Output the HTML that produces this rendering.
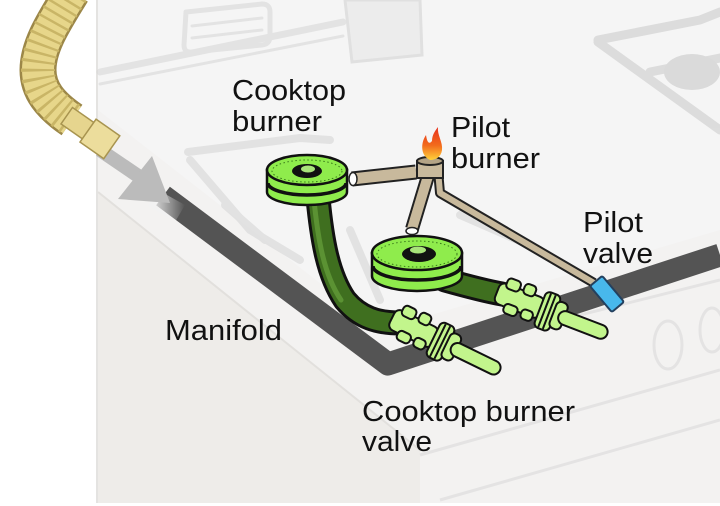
<!DOCTYPE html>
<html>
<head>
<meta charset="utf-8">
<style>
  html,body{margin:0;padding:0;background:#fff;}
  svg{display:block;}
  text{font-family:"Liberation Sans",Arial,sans-serif;font-size:29px;fill:#111;}
</style>
</head>
<body>
<svg width="720" height="506" viewBox="0 0 720 506" xmlns="http://www.w3.org/2000/svg">
  <defs>
    <linearGradient id="flame" x1="0" y1="0" x2="0" y2="1">
      <stop offset="0" stop-color="#e8321e"/>
      <stop offset="0.55" stop-color="#f26a1c"/>
      <stop offset="1" stop-color="#ffd23a"/>
    </linearGradient>
    <linearGradient id="mfade" x1="0" y1="0" x2="1" y2="0">
      <stop offset="0" stop-color="#f2f2f2" stop-opacity="1"/>
      <stop offset="1" stop-color="#f2f2f2" stop-opacity="0"/>
    </linearGradient>
  </defs>

  <!-- background -->
  <rect x="0" y="0" width="720" height="506" fill="#ffffff"/>
  <rect x="96" y="0" width="624" height="503" fill="#f3f2f1"/>
  <line x1="97" y1="0" x2="97" y2="503" stroke="#e4e3e1" stroke-width="2"/>
  <!-- lower-left face -->
  <polygon points="98,192 360,403 420,450 420,503 98,503" fill="#eeece9"/>
  <line x1="98" y1="192" x2="420" y2="450" stroke="#e2e0dd" stroke-width="2"/>
  <!-- upper region lighter -->
  <polygon points="98,0 720,0 720,230 380,330 98,110" fill="#f5f5f5"/>

  <!-- faint background drawings -->
  <g opacity="0.55">
    <g fill="none" stroke="#d6d6d6" stroke-linecap="round" stroke-linejoin="round">
      <path d="M100,72 L343,22" stroke-width="7"/>
      <path d="M100,84 L343,36" stroke-width="3"/>
      <path d="M186,12 L262,4 Q270,4 270,12 L270,36 Q270,44 262,45 L192,52 Q184,53 184,45 Z" stroke-width="5"/>
      <path d="M192,26 L262,18" stroke-width="3"/>
      <path d="M192,38 L262,30" stroke-width="3"/>
    </g>
    <path d="M345,0 L420,0 L422,55 L352,62 Z" fill="#e6e6e6" stroke="#d0d0d0" stroke-width="3"/>
    <!-- top right grates -->
    <g fill="none" stroke="#c8c8c8" stroke-width="9" stroke-linecap="round" stroke-linejoin="round">
      <path d="M598,40 L700,20 L720,12"/>
      <path d="M598,42 L720,130"/>
      <path d="M650,72 L720,58"/>
    </g>
    <ellipse cx="692" cy="72" rx="28" ry="18" fill="#c4c4c4"/>
    <!-- center grate under burners -->
    <g fill="none" stroke="#d4d4d4" stroke-width="8" stroke-linecap="round" stroke-linejoin="round">
      <path d="M188,152 L300,138 L330,140"/>
      <path d="M190,160 L250,230 L300,260"/>
      <path d="M225,205 L265,240"/>
      <path d="M460,215 L540,250"/>
      <path d="M350,230 L380,300"/>
    </g>
    <!-- bottom right oven front -->
    <g fill="none" stroke="#d8d8d8" stroke-width="3">
      <path d="M420,455 L720,370"/>
      <path d="M440,500 L720,420"/>
      <path d="M520,330 L720,280"/>
      <ellipse cx="668" cy="345" rx="14" ry="24"/>
      <ellipse cx="712" cy="330" rx="12" ry="22"/>
    </g>
  </g>

  <!-- manifold -->
  <polyline points="163,196 388,364 720,255" fill="none" stroke="#545454" stroke-width="23" stroke-linejoin="round"/>
  <polygon points="158,190 185,205 175,222 148,206" fill="url(#mfade)"/>

  <!-- arrow -->
  <line x1="100" y1="150" x2="150" y2="184" stroke="#bbbbbb" stroke-width="14"/>
  <polygon points="152,156 118,199 170,203" fill="#bbbbbb"/>

  <!-- hose -->
  <path d="M72,-8 C55,20 38,45 38,70 C38,90 50,105 72,120" fill="none" stroke="#9c8748" stroke-width="37"/>
  <path d="M72,-8 C55,20 38,45 38,70 C38,90 50,105 72,120" fill="none" stroke="#e7d68a" stroke-width="32"/>
  <path d="M72,-8 C55,20 38,45 38,70 C38,90 50,105 72,120" fill="none" stroke="#c9b566" stroke-width="34" stroke-dasharray="2.5 6"/>
  <g transform="translate(70,118) rotate(35)">
    <rect x="-4" y="-10" width="30" height="20" fill="#e6d58e" stroke="#a8944f" stroke-width="1.5"/>
    <rect x="22" y="-14" width="29" height="28" fill="#ecdd9c" stroke="#a8944f" stroke-width="1.5"/>
  </g>

  <!-- pilot thin tube to pilot valve -->
  <polyline points="438,170 440,193 594,283" fill="none" stroke="#222" stroke-width="10" stroke-linejoin="round"/>
  <polyline points="438,170 440,193 594,283" fill="none" stroke="#c8b99c" stroke-width="6" stroke-linejoin="round"/>

  <!-- pilot valve -->
  <g transform="translate(607,294) rotate(50)">
    <rect x="-17" y="-8" width="34" height="16" rx="2" fill="#48b8ec" stroke="#24405e" stroke-width="2"/>
  </g>

  <!-- green tube 1 -->
  <path d="M318,198 C322,240 328,275 345,300 C360,318 378,323 400,323" fill="none" stroke="#111" stroke-width="25" stroke-linecap="round"/>
  <path d="M318,198 C322,240 328,275 345,300 C360,318 378,323 400,323" fill="none" stroke="#3f6f1f" stroke-width="19" stroke-linecap="round"/>
  <path d="M314,200 C318,240 324,275 341,300" fill="none" stroke="#5b9233" stroke-width="5" stroke-linecap="round"/>
  <!-- green tube 2 -->
  <path d="M445,280 C470,287 485,291 502,294" fill="none" stroke="#111" stroke-width="25" stroke-linecap="round"/>
  <path d="M445,280 C470,287 485,291 502,294" fill="none" stroke="#3f6f1f" stroke-width="19" stroke-linecap="round"/>

  <!-- valves -->
  <g transform="translate(392,318) rotate(26)" fill="#c2f58c" stroke="#111" stroke-width="2">
    <rect x="0" y="-11" width="48" height="22" rx="6"/>
    <rect x="6" y="-18" width="14" height="11" rx="4"/>
    <rect x="24" y="-19" width="12" height="11" rx="4"/>
    <rect x="12" y="7" width="14" height="10" rx="4"/>
    <rect x="30" y="6" width="12" height="10" rx="4"/>
    <rect x="46" y="-19" width="16" height="38" rx="5"/>
    <line x1="51" y1="-18" x2="51" y2="18"/>
    <line x1="56" y1="-18" x2="56" y2="18"/>
    <rect x="60" y="-14" width="12" height="28" rx="5"/>
    <rect x="66" y="-7" width="54" height="14" rx="7"/>
  </g>
  <g transform="translate(497,292) rotate(21)" fill="#c2f58c" stroke="#111" stroke-width="2">
    <rect x="0" y="-11" width="48" height="22" rx="6"/>
    <rect x="6" y="-18" width="14" height="11" rx="4"/>
    <rect x="24" y="-19" width="12" height="11" rx="4"/>
    <rect x="12" y="7" width="14" height="10" rx="4"/>
    <rect x="30" y="6" width="12" height="10" rx="4"/>
    <rect x="46" y="-19" width="16" height="38" rx="5"/>
    <line x1="51" y1="-18" x2="51" y2="18"/>
    <line x1="56" y1="-18" x2="56" y2="18"/>
    <rect x="60" y="-14" width="12" height="28" rx="5"/>
    <rect x="66" y="-7" width="52" height="14" rx="7"/>
  </g>

  <!-- burner 1 -->
  <g stroke="#111" stroke-width="2.5">
    <path d="M267,170 L267,192 A40,13 0 0 0 347,192 L347,170 Z" fill="#8fec4c"/>
    <path d="M268,183 A39,12 0 0 0 346,183" fill="none" stroke-width="3.5"/>
    <ellipse cx="307" cy="170" rx="40" ry="15" fill="#8fec4c"/>
    <ellipse cx="307" cy="171" rx="35" ry="11" fill="none" stroke="#3b7a1c" stroke-width="1" stroke-dasharray="1.5 2.5"/>
    <ellipse cx="307" cy="171" rx="15" ry="7" fill="#111" stroke="none"/>
    <ellipse cx="308" cy="169" rx="7" ry="3.5" fill="#a8e37a" stroke="none"/>
  </g>

  <!-- pilot tube A (to burner 1) -->
  <line x1="352" y1="179" x2="416" y2="172" stroke="#222" stroke-width="15"/>
  <line x1="352" y1="179" x2="416" y2="172" stroke="#c8b99c" stroke-width="11"/>
  <ellipse cx="353" cy="179" rx="4" ry="6.5" fill="#fff" stroke="#222" stroke-width="1.5"/>
  <!-- pilot tube B (to burner 2) -->
  <line x1="428" y1="176" x2="412" y2="229" stroke="#222" stroke-width="14"/>
  <line x1="428" y1="176" x2="412" y2="229" stroke="#c8b99c" stroke-width="10"/>

  <!-- burner 2 -->
  <g stroke="#111" stroke-width="2.5">
    <path d="M372,253 L372,276 A45,15 0 0 0 462,276 L462,253 Z" fill="#8fec4c"/>
    <path d="M373,266 A44,14 0 0 0 461,266" fill="none" stroke-width="3.5"/>
    <ellipse cx="417" cy="253" rx="45" ry="17" fill="#8fec4c"/>
    <ellipse cx="417" cy="254" rx="40" ry="13" fill="none" stroke="#3b7a1c" stroke-width="1" stroke-dasharray="1.5 2.5"/>
    <ellipse cx="419" cy="254" rx="17" ry="8" fill="#111" stroke="none"/>
    <ellipse cx="418" cy="250" rx="8" ry="3.5" fill="#a8e37a" stroke="none"/>
  </g>
  <ellipse cx="412" cy="231" rx="6" ry="3.5" fill="#fff" stroke="#222" stroke-width="1.5"/>

  <!-- pilot burner -->
  <rect x="417" y="161" width="26" height="17" fill="#c8b99c" stroke="#222" stroke-width="2"/>
  <ellipse cx="430" cy="161" rx="13" ry="4" fill="#b3a386" stroke="#222" stroke-width="2"/>
  <path d="M430,160 C421,156 420,144 426,135 C427,142 429,145 432,141 C432,135 435,131 438,127 C437,135 443,142 442,150 C441,157 436,160 430,160 Z" fill="url(#flame)"/>

  <!-- labels -->
  <text x="232" y="100" textLength="114" lengthAdjust="spacingAndGlyphs">Cooktop</text>
  <text x="232" y="131" textLength="90" lengthAdjust="spacingAndGlyphs">burner</text>
  <text x="451" y="137" textLength="59" lengthAdjust="spacingAndGlyphs">Pilot</text>
  <text x="451" y="168" textLength="89" lengthAdjust="spacingAndGlyphs">burner</text>
  <text x="583" y="232" textLength="60" lengthAdjust="spacingAndGlyphs">Pilot</text>
  <text x="583" y="263" textLength="70" lengthAdjust="spacingAndGlyphs">valve</text>
  <text x="165" y="340" textLength="117" lengthAdjust="spacingAndGlyphs">Manifold</text>
  <text x="362" y="421" textLength="213" lengthAdjust="spacingAndGlyphs">Cooktop burner</text>
  <text x="362" y="451" textLength="70" lengthAdjust="spacingAndGlyphs">valve</text>
</svg>
</body>
</html>
